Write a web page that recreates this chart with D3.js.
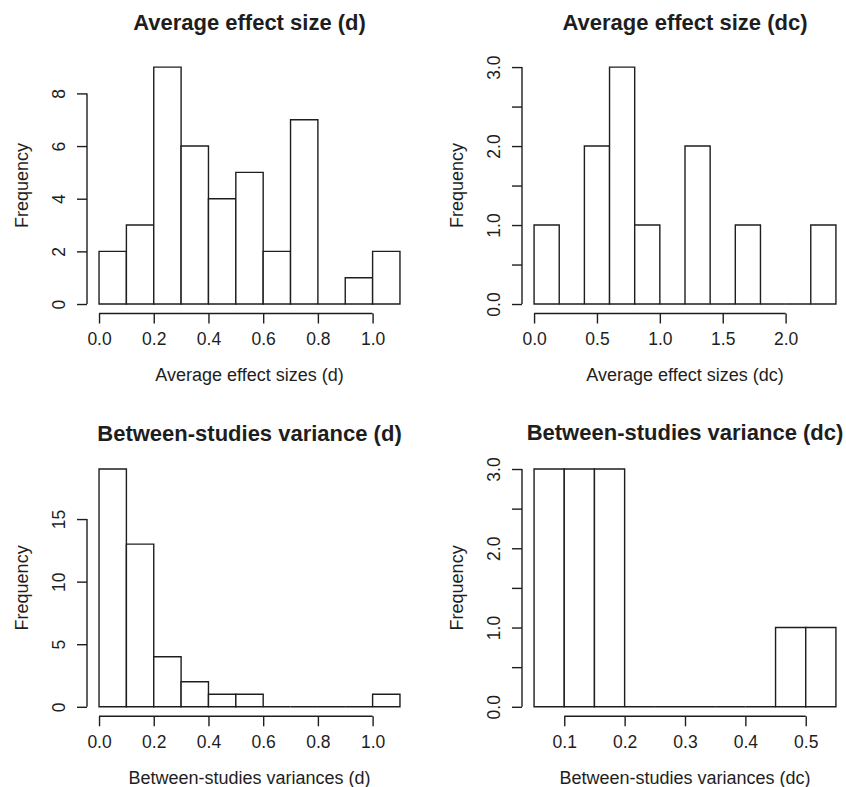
<!DOCTYPE html>
<html>
<head>
<meta charset="utf-8">
<script src="https://cdn.jsdelivr.net/npm/d3@7"></script>
<style>
  body { margin: 0; background: #fff; }
  svg text { font-family: "Liberation Sans", Arial, sans-serif; fill: #1e1e1e; }
</style>
</head>
<body>
<div id="chart"></div>
<script>
var svgWidth = 846;
var svgHeight = 787;

// histogram data: bin breaks and counts for each panel
var dBreaks = [0, 0.1, 0.2, 0.3, 0.4, 0.5, 0.6, 0.7, 0.8, 0.9, 1.0, 1.1];
var dCounts = [2, 3, 9, 6, 4, 5, 2, 7, 0, 1, 2];

var dcBreaks = [0, 0.2, 0.4, 0.6, 0.8, 1.0, 1.2, 1.4, 1.6, 1.8, 2.0, 2.2, 2.4];
var dcCounts = [1, 0, 2, 3, 1, 0, 2, 0, 1, 0, 0, 1];

var varDBreaks = [0, 0.1, 0.2, 0.3, 0.4, 0.5, 0.6, 0.7, 0.8, 0.9, 1.0, 1.1];
var varDCounts = [19, 13, 4, 2, 1, 1, 0, 0, 0, 0, 1];

var varDcBreaks = [0.05, 0.10, 0.15, 0.20, 0.25, 0.30, 0.35, 0.40, 0.45, 0.50, 0.55];
var varDcCounts = [3, 3, 3, 0, 0, 0, 0, 0, 1, 1];

// tick values and labels
var xTicksD = [0, 0.2, 0.4, 0.6, 0.8, 1.0];
var xTickLabelsD = ["0.0", "0.2", "0.4", "0.6", "0.8", "1.0"];
var xTicksDc = [0, 0.5, 1.0, 1.5, 2.0];
var xTickLabelsDc = ["0.0", "0.5", "1.0", "1.5", "2.0"];
var xTicksVarDc = [0.1, 0.2, 0.3, 0.4, 0.5];
var xTickLabelsVarDc = ["0.1", "0.2", "0.3", "0.4", "0.5"];

var yTicksD = [0, 2, 4, 6, 8];
var yTickLabelsD = ["0", "2", "4", "6", "8"];
var yTicksDc = [0, 0.5, 1.0, 1.5, 2.0, 2.5, 3.0];
var yTickLabelsDc = ["0.0", "", "1.0", "", "2.0", "", "3.0"];
var yTicksVarD = [0, 5, 10, 15];
var yTickLabelsVarD = ["0", "5", "10", "15"];

var panels = [
  { title: "Average effect size (d)", xLabel: "Average effect sizes (d)",
    breaks: dBreaks, counts: dCounts, xTicks: xTicksD, xLabels: xTickLabelsD,
    yTicks: yTicksD, yLabels: yTickLabelsD,
    box: { left: 87, right: 412, top: 57.6, bottom: 313.5 }, titleY: 22 },
  { title: "Average effect size (dc)", xLabel: "Average effect sizes (dc)",
    breaks: dcBreaks, counts: dcCounts, xTicks: xTicksDc, xLabels: xTickLabelsDc,
    yTicks: yTicksDc, yLabels: yTickLabelsDc,
    box: { left: 522, right: 848, top: 57.6, bottom: 313.5 }, titleY: 22 },
  { title: "Between-studies variance (d)", xLabel: "Between-studies variances (d)",
    breaks: varDBreaks, counts: varDCounts, xTicks: xTicksD, xLabels: xTickLabelsD,
    yTicks: yTicksVarD, yLabels: yTickLabelsVarD,
    box: { left: 87, right: 412, top: 459.5, bottom: 716.3 }, titleY: 433 },
  { title: "Between-studies variance (dc)", xLabel: "Between-studies variances (dc)",
    breaks: varDcBreaks, counts: varDcCounts, xTicks: xTicksVarDc, xLabels: xTickLabelsVarDc,
    yTicks: yTicksDc, yLabels: yTickLabelsDc,
    box: { left: 522, right: 848, top: 459.5, bottom: 716.3 }, titleY: 432 }
];

var ink = "#1e1e1e";

var svg = d3.select("#chart")
  .append("svg")
  .attr("width", svgWidth)
  .attr("height", svgHeight);

svg.append("rect")
  .attr("width", svgWidth)
  .attr("height", svgHeight)
  .attr("fill", "#fff");

panels.forEach(function(p) {
  var b = p.box;

  // R-style 4% padding on both axes
  var xMin = p.breaks[0], xMax = p.breaks[p.breaks.length - 1];
  var xPad = 0.04 * (xMax - xMin);
  var yMax = d3.max(p.counts);
  var yPad = 0.04 * yMax;

  var x = d3.scaleLinear()
    .domain([xMin - xPad, xMax + xPad])
    .range([b.left, b.right]);

  var y = d3.scaleLinear()
    .domain([-yPad, yMax + yPad])
    .range([b.bottom, b.top]);

  var g = svg.append("g");

  // bars (paths so zero-count bins still draw a line on the baseline)
  g.selectAll("path.bar")
    .data(p.counts)
    .enter()
    .append("path")
    .attr("class", "bar")
    .attr("d", function(d, i) {
      var x0 = x(p.breaks[i]), x1 = x(p.breaks[i + 1]);
      var y0 = y(0), y1 = y(d);
      return "M" + x0 + "," + y0 + "V" + y1 + "H" + x1 + "V" + y0 + "Z";
    })
    .attr("fill", "#fff")
    .attr("stroke", ink)
    .attr("stroke-width", 1.4);

  // x axis
  var bottomAxis = d3.axisBottom(x)
    .tickValues(p.xTicks)
    .tickFormat(function(d, i) { return p.xLabels[i]; })
    .tickSizeInner(10)
    .tickSizeOuter(0)
    .tickPadding(9);

  var xAxisG = g.append("g")
    .attr("transform", "translate(0," + b.bottom + ")")
    .call(bottomAxis);

  xAxisG.select(".domain")
    .attr("d", "M" + x(p.xTicks[0]) + ",0H" + x(p.xTicks[p.xTicks.length - 1]));

  // y axis
  var leftAxis = d3.axisLeft(y)
    .tickValues(p.yTicks)
    .tickFormat(function(d, i) { return p.yLabels[i]; })
    .tickSizeInner(10)
    .tickSizeOuter(0);

  var yAxisG = g.append("g")
    .attr("transform", "translate(" + b.left + ",0)")
    .call(leftAxis);

  yAxisG.select(".domain")
    .attr("d", "M0," + y(p.yTicks[0]) + "V" + y(p.yTicks[p.yTicks.length - 1]));

  yAxisG.selectAll(".tick text")
    .attr("transform", "rotate(-90)")
    .attr("x", 0)
    .attr("y", -28.5)
    .attr("dy", "0.35em")
    .attr("text-anchor", "middle");

  [xAxisG, yAxisG].forEach(function(a) {
    a.selectAll(".domain, .tick line")
      .attr("stroke", ink)
      .attr("stroke-width", 1.4);
    a.selectAll(".tick text")
      .attr("fill", ink)
      .style("font-size", "17.5px")
      .style("font-family", "'Liberation Sans', Arial, sans-serif");
  });

  // titles and axis labels
  var cx = (b.left + b.right) / 2;
  g.append("text")
    .attr("x", cx)
    .attr("y", p.titleY)
    .attr("dy", "0.35em")
    .attr("text-anchor", "middle")
    .style("font-size", "22px")
    .style("font-weight", "bold")
    .text(p.title);

  g.append("text")
    .attr("x", cx)
    .attr("y", b.bottom + 61)
    .attr("dy", "0.35em")
    .attr("text-anchor", "middle")
    .style("font-size", "18px")
    .text(p.xLabel);

  g.append("text")
    .attr("transform", "translate(" + (b.left - 65.5) + "," + ((b.top + b.bottom) / 2) + ") rotate(-90)")
    .attr("dy", "0.35em")
    .attr("text-anchor", "middle")
    .style("font-size", "18px")
    .text("Frequency");
});
</script>
</body>
</html>
